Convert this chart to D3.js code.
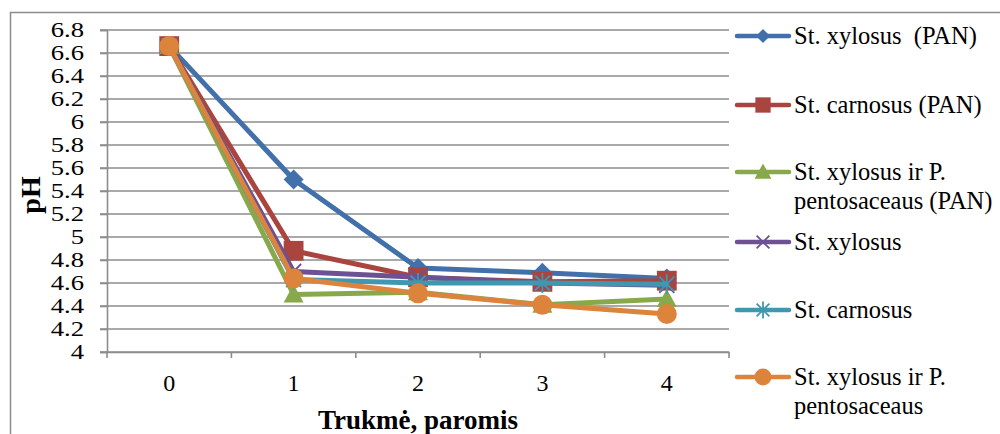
<!DOCTYPE html>
<html>
<head>
<meta charset="utf-8">
<script src="https://cdn.jsdelivr.net/npm/d3@7"></script>
<style>
  html, body { margin: 0; padding: 0; background: #fff; }
  svg { display: block; }
  svg text { white-space: pre; }
</style>
</head>
<body>
<svg id="chart" width="1000" height="434"></svg>
<script>
// Days of fermentation and measured pH per starter culture
const days = ["0", "1", "2", "3", "4"];
const yTicks = [4, 4.2, 4.4, 4.6, 4.8, 5, 5.2, 5.4, 5.6, 5.8, 6, 6.2, 6.4, 6.6, 6.8];

const seriesNames = [
  ["St. xylosus  (PAN)"],
  ["St. carnosus (PAN)"],
  ["St. xylosus ir P.", "pentosaceaus (PAN)"],
  ["St. xylosus"],
  ["St. carnosus"],
  ["St. xylosus ir P.", "pentosaceaus"]
];
const xylosusPAN      = [6.66, 5.50, 4.73, 4.69, 4.64];
const carnosusPAN     = [6.66, 4.88, 4.65, 4.61, 4.62];
const xylosusPentoPAN = [6.66, 4.50, 4.52, 4.41, 4.46];
const xylosus         = [6.66, 4.70, 4.65, 4.60, 4.58];
const carnosus        = [6.66, 4.63, 4.60, 4.60, 4.59];
const xylosusPento    = [6.66, 4.64, 4.51, 4.41, 4.33];

const seriesValues = [xylosusPAN, carnosusPAN, xylosusPentoPAN, xylosus, carnosus, xylosusPento];
const colors  = ["#4170aa", "#a9443f", "#88a94b", "#6d5193", "#3f98af", "#dc843c"];
const markers = ["diamond", "square", "triangle", "x", "star", "circle"];

const serif = "'Liberation Serif'";
const svg = d3.select("#chart");
svg.append("rect").attr("width", 1000).attr("height", 434).attr("fill", "#fff");

// chart frame
svg.append("rect")
  .attr("x", 10.5).attr("y", 12.5).attr("width", 1000).attr("height", 440)
  .attr("fill", "none").attr("stroke", "#8c8c8c").attr("stroke-width", 1.5);

const plot = { left: 107, right: 729, top: 30, bottom: 352 };
const x = d3.scaleBand().domain(days).range([plot.left, plot.right]);
const y = d3.scaleLinear().domain([4, 6.8]).range([plot.bottom, plot.top]);
const gridColor = "#8c8c8c";

// horizontal gridlines
svg.append("g").selectAll("line").data(yTicks).join("line")
  .attr("x1", plot.left - 7).attr("x2", plot.right)
  .attr("y1", d => y(d)).attr("y2", d => y(d))
  .attr("stroke", gridColor).attr("stroke-width", 1.6);

// y axis: labels are set in a slightly widened serif face
const yLabelStretch = 1.3;
const yAxis = svg.append("g")
  .attr("transform", `translate(${plot.left},0)`)
  .call(d3.axisLeft(y).tickValues(yTicks).tickSize(7).tickPadding(16).tickFormat(d => String(+d.toFixed(1))));
yAxis.attr("font-family", null);
yAxis.select(".domain").attr("stroke", gridColor).attr("stroke-width", 1.6);
yAxis.selectAll(".tick line").attr("stroke", gridColor).attr("stroke-width", 1.6);
yAxis.selectAll("text")
  .attr("font-size", 20.5).attr("fill", "#000").style("font-family", serif)
  .attr("x", -23 / yLabelStretch)
  .attr("transform", `scale(${yLabelStretch},1)`);

// x axis with ticks between categories
const xAxis = svg.append("g")
  .attr("transform", `translate(0,${plot.bottom})`)
  .call(d3.axisBottom(x).tickSize(0).tickPadding(22));
xAxis.attr("font-family", null);
xAxis.select(".domain").attr("stroke", gridColor).attr("stroke-width", 1.6);
xAxis.selectAll("text").attr("font-size", 24).attr("fill", "#000").style("font-family", serif);
const bounds = days.map(d => x(d)).concat([x(days[days.length - 1]) + x.bandwidth()]);
xAxis.append("g").selectAll("line").data(bounds).join("line")
  .attr("x1", d => d).attr("x2", d => d).attr("y1", 0).attr("y2", 6)
  .attr("stroke", gridColor).attr("stroke-width", 1.6);

// axis titles
svg.append("text")
  .attr("x", 418).attr("y", 429).attr("text-anchor", "middle")
  .attr("font-size", 27).attr("font-weight", "bold").style("font-family", serif)
  .text("Trukmė, paromis");
svg.append("text")
  .attr("transform", "translate(40,195) rotate(-90)")
  .attr("text-anchor", "middle")
  .attr("font-size", 28).attr("font-weight", "bold").style("font-family", serif)
  .text("pH");

// marker drawing
function drawMarker(g, type, color, s) {
  switch (type) {
    case "diamond":
      g.append("path").attr("d", `M0,${-s}L${s},0L0,${s}L${-s},0Z`).attr("fill", color);
      break;
    case "square":
      g.append("rect").attr("x", -s * 0.9).attr("y", -s * 0.9)
        .attr("width", s * 1.8).attr("height", s * 1.8).attr("fill", color);
      break;
    case "triangle":
      g.append("path").attr("d", `M0,${-s}L${s},${s * 0.8}L${-s},${s * 0.8}Z`).attr("fill", color);
      break;
    case "x":
      g.append("path").attr("d", `M${-s * 0.75},${-s * 0.75}L${s * 0.75},${s * 0.75}M${-s * 0.75},${s * 0.75}L${s * 0.75},${-s * 0.75}`)
        .attr("stroke", color).attr("stroke-width", 1.8).attr("fill", "none");
      break;
    case "star":
      g.append("path").attr("d", `M${-s * 0.75},${-s * 0.75}L${s * 0.75},${s * 0.75}M${-s * 0.75},${s * 0.75}L${s * 0.75},${-s * 0.75}M0,${-s}L0,${s}`)
        .attr("stroke", color).attr("stroke-width", 1.8).attr("fill", "none");
      break;
    case "circle":
      g.append("circle").attr("r", s).attr("fill", color);
      break;
  }
}

const line = d3.line().x((d, i) => x(days[i]) + x.bandwidth() / 2).y(d => y(d));

seriesValues.forEach((vals, si) => {
  const g = svg.append("g");
  g.append("path").datum(vals).attr("d", line)
    .attr("fill", "none").attr("stroke", colors[si]).attr("stroke-width", 5)
    .attr("stroke-linejoin", "round").attr("stroke-linecap", "round");
  vals.forEach((v, i) => {
    const m = g.append("g").attr("transform", `translate(${x(days[i]) + x.bandwidth() / 2},${y(v)})`);
    drawMarker(m, markers[si], colors[si], si === 1 ? 11 : 10);
  });
});

// legend
const legendRows = [36, 105, 172, 242, 310, 377];
const legend = svg.append("g");
seriesNames.forEach((lines, si) => {
  const ly = legendRows[si];
  const g = legend.append("g");
  g.append("line").attr("x1", 737).attr("x2", 789).attr("y1", ly).attr("y2", ly)
    .attr("stroke", colors[si]).attr("stroke-width", 4.5).attr("stroke-linecap", "round");
  const m = g.append("g").attr("transform", `translate(763,${ly})`);
  drawMarker(m, markers[si], colors[si], si === 0 ? 7 : 8.5);
  const t = g.append("text").attr("x", 794).attr("y", ly + 8).attr("font-size", 24.5)
    .attr("fill", "#000").style("font-family", serif);
  lines.forEach((s, li) => {
    t.append("tspan").attr("x", 794).attr("dy", li === 0 ? 0 : 29).text(s);
  });
});
</script>
</body>
</html>
